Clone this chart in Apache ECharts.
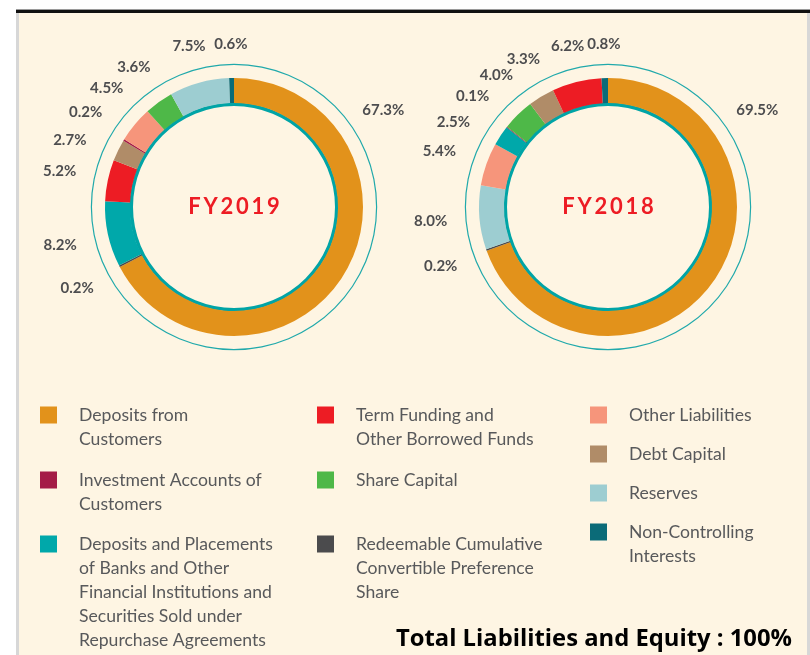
<!DOCTYPE html>
<html>
<head>
<meta charset="utf-8">
<script src="https://cdn.jsdelivr.net/npm/echarts@6/dist/echarts.min.js"></script>
<style>
html,body{margin:0;padding:0;background:#ffffff;}
#main{width:810px;height:655px;}
</style>
</head>
<body>
<div id="main"></div>
<script>
// ---------------- DATA ----------------
const YEARS = ['FY2019', 'FY2018'];

// slices in clockwise order starting at 12 o'clock
const NAMES_2019 = [
  'Deposits from Customers',
  'Redeemable Cumulative Convertible Preference Share',
  'Deposits and Placements of Banks and Other Financial Institutions and Securities Sold under Repurchase Agreements',
  'Term Funding and Other Borrowed Funds',
  'Debt Capital',
  'Investment Accounts of Customers',
  'Other Liabilities',
  'Share Capital',
  'Reserves',
  'Non-Controlling Interests'
];
const VALUES_2019 = [67.3, 0.2, 8.2, 5.2, 2.7, 0.2, 4.5, 3.6, 7.5, 0.6];

const NAMES_2018 = [
  'Deposits from Customers',
  'Redeemable Cumulative Convertible Preference Share',
  'Reserves',
  'Other Liabilities',
  'Deposits and Placements of Banks and Other Financial Institutions and Securities Sold under Repurchase Agreements',
  'Investment Accounts of Customers',
  'Share Capital',
  'Debt Capital',
  'Term Funding and Other Borrowed Funds',
  'Non-Controlling Interests'
];
const VALUES_2018 = [69.5, 0.2, 8.0, 5.4, 2.5, 0.1, 4.0, 3.3, 6.2, 0.8];

const LEGEND_COLUMNS = [
  ['Deposits from Customers',
   'Investment Accounts of Customers',
   'Deposits and Placements of Banks and Other Financial Institutions and Securities Sold under Repurchase Agreements'],
  ['Term Funding and Other Borrowed Funds',
   'Share Capital',
   'Redeemable Cumulative Convertible Preference Share'],
  ['Other Liabilities',
   'Debt Capital',
   'Reserves',
   'Non-Controlling Interests']
];

const LEGEND_TEXT = {
  'Deposits from Customers': 'Deposits from\nCustomers',
  'Investment Accounts of Customers': 'Investment Accounts of\nCustomers',
  'Deposits and Placements of Banks and Other Financial Institutions and Securities Sold under Repurchase Agreements':
    'Deposits and Placements\nof Banks and Other\nFinancial Institutions and\nSecurities Sold under\nRepurchase Agreements',
  'Term Funding and Other Borrowed Funds': 'Term Funding and\nOther Borrowed Funds',
  'Share Capital': 'Share Capital',
  'Redeemable Cumulative Convertible Preference Share': 'Redeemable Cumulative\nConvertible Preference\nShare',
  'Other Liabilities': 'Other Liabilities',
  'Debt Capital': 'Debt Capital',
  'Reserves': 'Reserves',
  'Non-Controlling Interests': 'Non-Controlling\nInterests'
};

const TOTAL_LABEL = 'Total Liabilities and Equity : 100%';

// ---------------- STYLE ----------------
const COLORS = {
  'Deposits from Customers': '#E2921B',
  'Investment Accounts of Customers': '#A41C47',
  'Deposits and Placements of Banks and Other Financial Institutions and Securities Sold under Repurchase Agreements': '#00A8AA',
  'Term Funding and Other Borrowed Funds': '#ED1C24',
  'Share Capital': '#4EB848',
  'Redeemable Cumulative Convertible Preference Share': '#4B4B4D',
  'Other Liabilities': '#F6957B',
  'Debt Capital': '#B08C68',
  'Reserves': '#9DCDD1',
  'Non-Controlling Interests': '#0B6B78'
};
const FONT = 'Lato';
const BG = '#FEF5E3';
const CENTERS = [[234, 207], [608, 207]];
const R_IN = 104, R_OUT = 129;
const LABEL_SEP = 10.5;           // min angular separation of small-slice labels (deg)
const LABEL_RB = 162;             // distance from ring centre to the near edge of each label box
const LABEL_HW = 16, LABEL_HH = 1;
const BIG_LABEL_ANGLE = 57;       // degrees clockwise from top for the large slice label
const BIG_LABEL_R = 178;
const COL_X = [40, 317, 590];
const ROW_TOP = [[405, 470, 534], [405, 470, 534], [405, 444, 483, 522]];
const LINE_H = 24;

// ---------------- BUILD ----------------
const chart = echarts.init(document.getElementById('main'), null, {renderer: 'canvas'});

function spaced(s) { return s.split('').join('\u2009'); }

// mid-angle (deg clockwise from 12 o'clock) of each slice, then spread small-slice labels apart
function labelAngles(values) {
  const total = values.reduce((a, b) => a + b, 0);
  let acc = 0;
  const mids = values.map(v => { const m = (acc + v / 2) / total * 360; acc += v; return m; });
  const a = mids.slice(1);
  for (let it = 0; it < 300; it++) {
    for (let i = 0; i < a.length - 1; i++) {
      const d = a[i + 1] - a[i];
      if (d < LABEL_SEP) { const s = (LABEL_SEP - d) / 2; a[i] -= s; a[i + 1] += s; }
    }
  }
  return [BIG_LABEL_ANGLE].concat(a);
}

// distance along direction so that the label box just clears radius LABEL_RB
function boxDist(ux, uy) {
  let lo = 100, hi = 260;
  for (let i = 0; i < 40; i++) {
    const d = (lo + hi) / 2;
    const ex = Math.max(0, Math.abs(d * ux) - LABEL_HW);
    const ey = Math.max(0, Math.abs(d * uy) - LABEL_HH);
    if (Math.sqrt(ex * ex + ey * ey) < LABEL_RB) lo = d; else hi = d;
  }
  return (lo + hi) / 2;
}

const VALUES = [VALUES_2019, VALUES_2018];
const NAMES = [NAMES_2019, NAMES_2018];

const series = [];
YEARS.forEach((yr, k) => {
  const c = CENTERS[k];
  const angles = labelAngles(VALUES[k]);
  series.push({
    type: 'pie',
    name: yr,
    center: c,
    radius: [R_IN, R_OUT],
    startAngle: 90,
    clockwise: true,
    avoidLabelOverlap: false,
    emphasis: {disabled: true},
    itemStyle: {borderWidth: 0},
    label: {
      show: true,
      position: 'outside',
      distanceToLabelLine: 0,
      formatter: p => p.value.toFixed(1) + '%',
      fontFamily: FONT,
      fontWeight: 'bold',
      fontSize: 15,
      color: '#4D4D4F'
    },
    labelLine: {show: false, length: 40, length2: 0},
    labelLayout: function (p) {
      const th = angles[p.dataIndex] * Math.PI / 180;
      const ux = Math.sin(th), uy = -Math.cos(th);
      const r = p.dataIndex === 0 ? BIG_LABEL_R : boxDist(ux, uy);
      return {
        x: c[0] + r * ux,
        y: c[1] + r * uy,
        align: 'center', verticalAlign: 'middle'
      };
    },
    data: NAMES[k].map((n, i) => ({name: n, value: VALUES[k][i], itemStyle: {color: COLORS[n]}})),
    z: 3
  });
  // inner teal ring with year label in the centre
  series.push({
    type: 'pie',
    center: c,
    radius: [101, 104.5],
    silent: true,
    emphasis: {disabled: true},
    label: {
      show: true, position: 'center', formatter: spaced(yr),
      fontFamily: FONT, fontWeight: 'bold', fontSize: 22, color: '#ED1C24'
    },
    labelLine: {show: false},
    itemStyle: {color: '#00A4A6'},
    data: [{value: 1, name: yr + ' ring'}],
    z: 2
  });
  // outer thin ring
  series.push({
    type: 'pie',
    center: c,
    radius: [142, 143.2],
    silent: true,
    emphasis: {disabled: true},
    label: {show: false},
    labelLine: {show: false},
    itemStyle: {color: '#20A9AB'},
    data: [{value: 1, name: yr + ' outer'}],
    z: 2
  });
});

const legends = [];
LEGEND_COLUMNS.forEach((col, ci) => {
  col.forEach((name, ri) => {
    const text = LEGEND_TEXT[name];
    const n = text.split('\n').length;
    const H = LINE_H * (n - 1) + 17;
    legends.push({
      left: COL_X[ci],
      top: ROW_TOP[ci][ri] - 2,
      padding: 0,
      orient: 'vertical',
      selectedMode: false,
      itemWidth: 34,
      itemHeight: H,
      icon: 'path://M0,0H17V17H0Z M34,' + H + 'L34,' + H,
      data: [name],
      formatter: nm => LEGEND_TEXT[nm],
      textStyle: {fontFamily: FONT, fontSize: 17.6, lineHeight: LINE_H, color: '#58595B'}
    });
  });
});

const option = {
  backgroundColor: BG,
  animation: false,
  legend: legends,
  series: series,
  graphic: [
    {type: 'rect', shape: {x: 0, y: 0, width: 810, height: 10}, style: {fill: '#ffffff'}, silent: true},
    {type: 'rect', shape: {x: 0, y: 0, width: 16, height: 655}, style: {fill: '#ffffff'}, silent: true},
    {type: 'rect', shape: {x: 16, y: 9, width: 794, height: 1}, style: {fill: '#9a9a9a'}, silent: true},
    {type: 'rect', shape: {x: 16, y: 10, width: 794, height: 3}, style: {fill: '#111111'}, silent: true},
    {type: 'rect', shape: {x: 16, y: 13, width: 3, height: 642}, style: {fill: '#D7D7D7'}, silent: true},
    {type: 'rect', shape: {x: 807, y: 13, width: 3, height: 642}, style: {fill: '#D7D7D7'}, silent: true},
    {type: 'text', x: 792, y: 639, silent: true,
     style: {text: TOTAL_LABEL, align: 'right', verticalAlign: 'middle',
             font: 'bold 23.8px "Open Sans"', fill: '#000000'}}
  ]
};
chart.setOption(option);
</script>
</body>
</html>
